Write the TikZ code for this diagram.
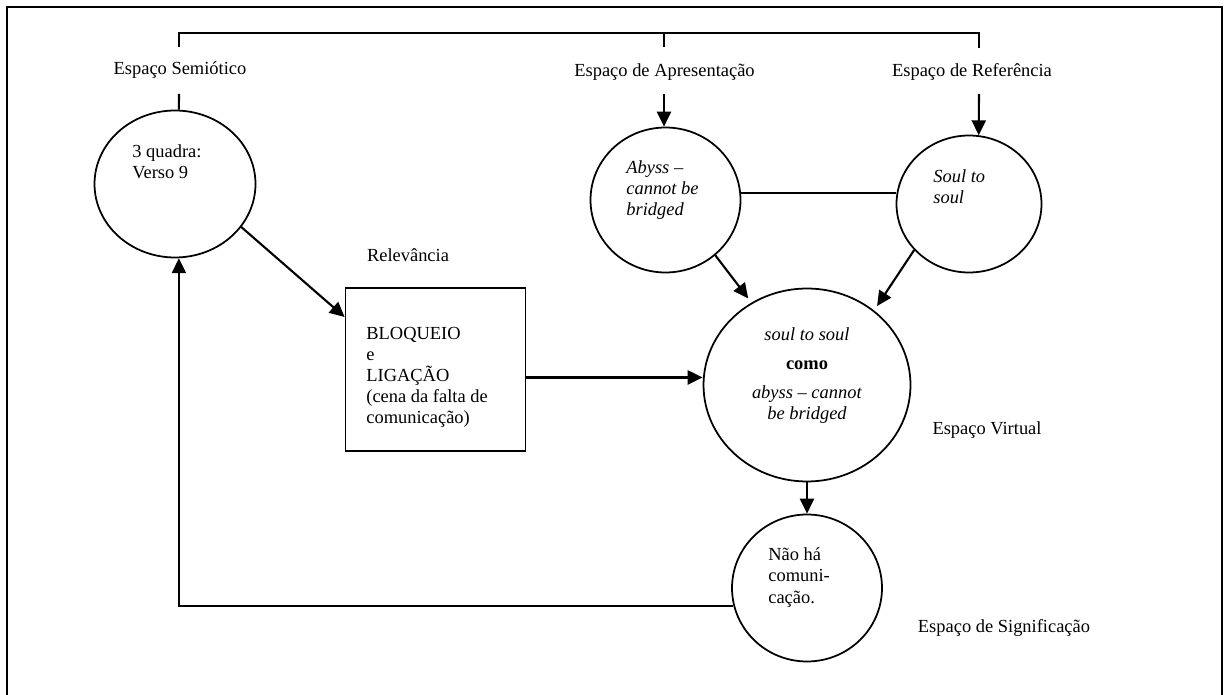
\documentclass[tikz,border=0pt]{standalone}
\usepackage{fontspec}
\setmainfont{Liberation Serif}
\usetikzlibrary{shapes.geometric,arrows.meta}

\begin{document}
\begin{tikzpicture}[x=0.02cm, y=0.02cm,
		every node/.style={inner sep=0pt, font=\fontsize{10.5}{12}\selectfont},
		ital/.style={font=\fontsize{10.5}{12}\selectfont\itshape},
		spc/.style={draw, ellipse, line width=1pt},
		txt/.style={align=left, anchor=west},
		ln/.style={line width=1.2pt},
		arr/.style={line width=1.2pt, -{Triangle[length=8.5pt,width=8pt]}}]
		\useasboundingbox (0,0) rectangle (1226,-695);
		\draw [line width=1.1pt] (7,-695) -- (7,-7) -- (1222,-7) -- (1222,-695);
		\node [spc, minimum width=3.22cm, minimum height=2.94cm] (sem) at (175,-184) {};
		\node [spc, minimum width=3.0cm, minimum height=2.9cm] (abyss) at (665.5,-200) {};
		\node [spc, minimum width=2.9cm, minimum height=2.74cm] (soul) at (969,-204) {};
		\node [spc, minimum width=4.14cm, minimum height=3.86cm] (virt) at (807,-385) {};
		\node [spc, minimum width=3.0cm, minimum height=2.94cm] (nao) at (807,-588) {};
		\node [draw, line width=1pt, minimum width=3.6cm, minimum height=3.26cm] (bloq) at (435.5,-369.5) {};
		\node [txt] (semtxt) at (132,-162) {3 quadra:\\Verso 9};
		\node [txt, ital] (abysstxt) at (626,-190) {Abyss –\\cannot be\\bridged};
		\node [txt, ital] (soultxt) at (933,-186.5) {Soul to\\soul};
		\node [txt] (bloqtxt) at (366,-377.5) {BLOQUEIO\\e\\LIGAÇÃO\\(cena da falta de\\comunicação)};
		\node [txt] (naotxt) at (768,-577.5) {Não há\\comuni-\\cação.};
		\node [align=center] (virttxt) at (807,-375.5) {\textit{soul to soul}\\[4.5pt]\textbf{como}\\[4.5pt]\textit{abyss – cannot}\\\textit{be bridged}};
		\node (semlab) at (180,-70) {Espaço Semiótico};
		\node (apreslab) at (664.5,-72) {Espaço de Apresentação};
		\node (reflab) at (972,-72) {Espaço de Referência};
		\node (rellab) at (408,-255) {Relevância};
		\node (virtlab) at (987,-430) {Espaço Virtual};
		\node (siglab) at (1004,-628) {Espaço de Significação};
		\coordinate (bar) at (500,-33);
		\coordinate (semtop) at (179,-47);
		\coordinate (semfoot) at (179,-94);
		\coordinate (aprestop) at (664,-47);
		\coordinate (apresfoot) at (664,-94);
		\coordinate (reftop) at (979,-48);
		\coordinate (reffoot) at (979,-94);
		\draw [ln] (semtop) -- (semtop |- bar) -| (reftop);
		\draw [ln] (aprestop) -- (aprestop |- bar);
		\draw [ln] (semfoot) -- (sem.87);
		\draw [arr] (apresfoot) -- (apresfoot |- abyss.north);
		\draw [arr] (reffoot) -- (soul.82);
		\draw [ln] (abyss.5) -- (abyss.5 -| soul.west);
		\draw [arr, shorten >=3pt] (abyss.-48) -- (virt.124);
		\draw [arr, shorten >=3pt] (soul.220) -- (virt.48);
		\draw [arr] (sem.-33) -- (bloq.150);
		\draw [arr] (bloq.-5) -- (bloq.-5 -| virt.west);
		\draw [arr] (virt.south) -- (nao.north);
		\draw [arr] (nao.194) -| (sem.-87);
	\end{tikzpicture}
\end{document}
